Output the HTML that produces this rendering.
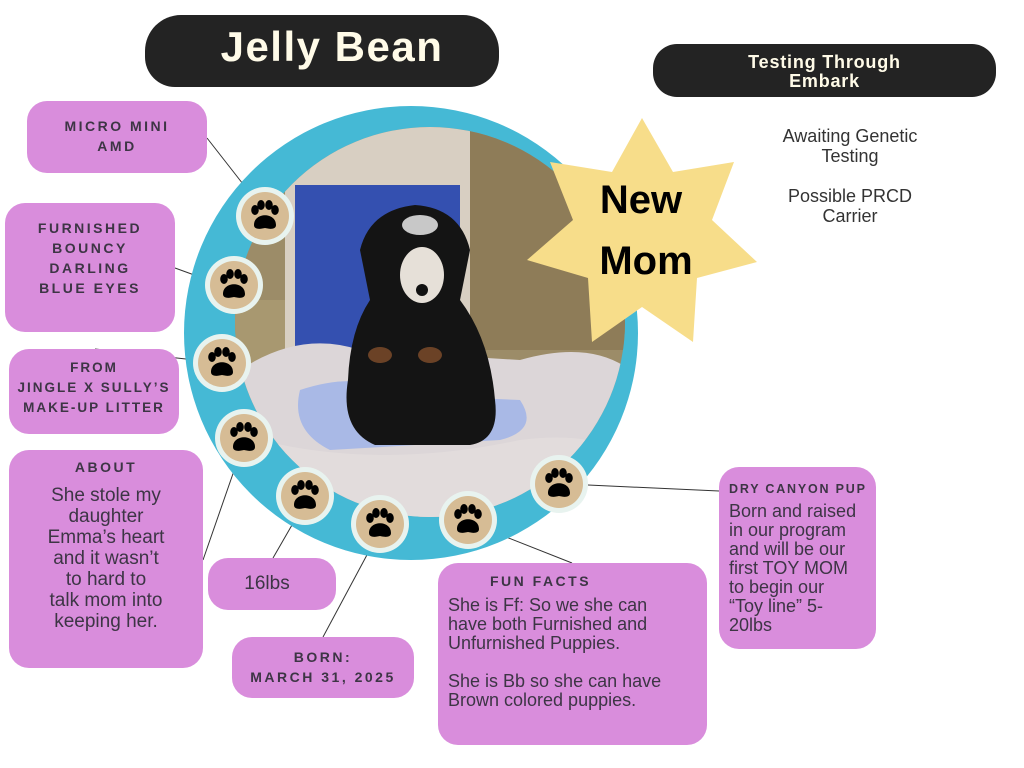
<!DOCTYPE html>
<html><head><meta charset="utf-8"><style>
body{margin:0;width:1024px;height:768px;background:#fff;position:relative;overflow:hidden;font-family:"Liberation Sans",sans-serif}
.box{position:absolute;background:#d98ddc;border-radius:20px;color:#3d3545;text-align:center;box-sizing:border-box}
.cap{font-weight:bold;letter-spacing:2.5px;font-size:14px;line-height:20px}
.body{font-size:19px;line-height:21px}
.pill{position:absolute;background:#232323;color:#fffbe8;font-weight:bold;text-align:center}
</style></head><body>
<div class="pill" style="left:145px;top:15px;width:354px;height:72px;border-radius:36px 36px 30px 30px;font-size:42px;line-height:64px;letter-spacing:1.5px;padding-left:20px;box-sizing:border-box">Jelly Bean</div>
<div class="pill" style="left:653px;top:44px;width:343px;height:53px;border-radius:24px;font-size:18px;line-height:19px;padding-top:9px;box-sizing:border-box;letter-spacing:0.8px">Testing Through<br>Embark</div>
<div style="position:absolute;left:740px;top:126px;width:220px;text-align:center;color:#333;font-size:18px;line-height:20px">Awaiting Genetic<br>Testing<br><div style="height:20px"></div>Possible PRCD<br>Carrier</div>

<svg width="1024" height="768" style="position:absolute;left:0;top:0">
<defs>
<clipPath id="ph"><circle cx="430" cy="322" r="195"/></clipPath>
<g id="paw"><circle r="29" fill="#e8f3ef"/><circle r="24" fill="#d6bc95"/>
<ellipse cx="-10" cy="-6" rx="3.8" ry="5" fill="#000"/><ellipse cx="-4" cy="-11" rx="3.8" ry="5" fill="#000"/><ellipse cx="4" cy="-11" rx="3.8" ry="5" fill="#000"/><ellipse cx="10" cy="-6" rx="3.8" ry="5" fill="#000"/>
<path d="M-11 9 C-11 -4 11 -4 11 9 C11 14 4 13 0 12 C-4 13 -11 14 -11 9Z" fill="#000"/></g>
</defs>
<g stroke="#333" stroke-width="1">
<line x1="207" y1="138" x2="250" y2="193"/>
<line x1="175" y1="268" x2="208" y2="280"/>
<line x1="95" y1="349" x2="195" y2="360"/>
<line x1="203" y1="560" x2="236" y2="465"/>
<line x1="273" y1="558" x2="292" y2="525"/>
<line x1="323" y1="637" x2="368" y2="553"/>
<line x1="496" y1="533" x2="572" y2="563"/>
<line x1="588" y1="485" x2="719" y2="491"/>
</g>
<circle cx="411" cy="333" r="227" fill="#45b9d5"/>
<g clip-path="url(#ph)">
<rect x="230" y="120" width="400" height="410" fill="#9c8c68"/>
<rect x="230" y="300" width="120" height="100" fill="#a89870"/>
<rect x="470" y="130" width="160" height="220" fill="#8e7c58"/>
<rect x="285" y="127" width="185" height="260" fill="#d8cfc2"/>
<rect x="295" y="185" width="165" height="190" fill="#3450b0"/>
<path d="M240 370 Q300 330 360 350 L520 360 Q590 340 630 370 L630 530 L230 530Z" fill="#dcd6d8"/>
<path d="M300 390 Q360 370 400 395 L520 400 Q540 430 500 440 L330 450 Q290 430 300 390Z" fill="#a9b9e6"/>
<path d="M260 440 Q380 470 520 440 Q600 430 630 460 L630 530 L230 530Z" fill="#e2dcdc"/>
<path d="M360 250 Q370 210 415 205 Q460 208 470 250 L460 300 Q490 340 495 400 Q500 440 470 445 L375 445 Q340 430 348 380 Q350 330 370 300Z" fill="#141414"/>
<ellipse cx="422" cy="275" rx="22" ry="28" fill="#e6e0d8"/>
<ellipse cx="420" cy="225" rx="18" ry="10" fill="#c8c8c8"/>
<circle cx="422" cy="290" r="6" fill="#111"/>
<ellipse cx="380" cy="355" rx="12" ry="8" fill="#6b4226"/><ellipse cx="430" cy="355" rx="12" ry="8" fill="#6b4226"/>
</g>
<use href="#paw" x="265" y="216"/><use href="#paw" x="234" y="285"/><use href="#paw" x="222" y="363"/><use href="#paw" x="244" y="438"/>
<use href="#paw" x="305" y="496"/><use href="#paw" x="380" y="524"/><use href="#paw" x="468" y="520"/><use href="#paw" x="559" y="484"/>
<polygon points="642,118 673,172 734,162 712,220 757,262 697,278 693,342 642,307 592,342 588,278 527,260 573,220 550,162 612,172" fill="#f7dd8a"/>
<text x="641" y="213" text-anchor="middle" font-family="Liberation Sans" font-weight="bold" font-size="40" fill="#000">New</text>
<text x="646" y="274" text-anchor="middle" font-family="Liberation Sans" font-weight="bold" font-size="40" fill="#000">Mom</text>
</svg>

<div class="box cap" style="left:27px;top:101px;width:180px;height:72px;padding-top:15px">MICRO MINI<br>AMD</div>
<div class="box cap" style="left:5px;top:203px;width:170px;height:129px;padding-top:15px">FURNISHED<br>BOUNCY<br>DARLING<br>BLUE EYES</div>
<div class="box cap" style="left:9px;top:349px;width:170px;height:85px;padding-top:9px;font-size:13.5px;letter-spacing:2px">FROM<br>JINGLE X SULLY’S<br>MAKE-UP LITTER</div>
<div class="box" style="left:9px;top:450px;width:194px;height:218px;padding-top:7px"><div class="cap">ABOUT</div><div class="body" style="margin-top:8px">She stole my<br>daughter<br>Emma’s heart<br>and it wasn’t<br>to hard to<br>talk mom into<br>keeping her.</div></div>
<div class="box body" style="left:208px;top:558px;width:128px;height:52px;line-height:52px;padding-right:10px">16lbs</div>
<div class="box cap" style="left:232px;top:637px;width:182px;height:61px;padding-top:10px">BORN:<br>MARCH 31, 2025</div>
<div class="box" style="left:438px;top:563px;width:269px;height:182px;padding:8px 6px 0 10px;text-align:left"><div class="cap" style="padding-left:42px">FUN FACTS</div><div class="body" style="font-size:18px;line-height:19px;margin-top:5px">She is Ff: So we she can<br>have both Furnished and<br>Unfurnished Puppies.<br><br>She is Bb so she can have<br>Brown colored puppies.</div></div>
<div class="box" style="left:719px;top:467px;width:157px;height:182px;padding:12px 2px 0 10px;text-align:left"><div class="cap" style="font-size:12.5px;letter-spacing:1.8px">DRY CANYON PUP</div><div class="body" style="font-size:18px;line-height:19px;margin-top:3px">Born and raised<br>in our program<br>and will be our<br>first TOY MOM<br>to begin our<br>“Toy line” 5-<br>20lbs</div></div>
</body></html>
